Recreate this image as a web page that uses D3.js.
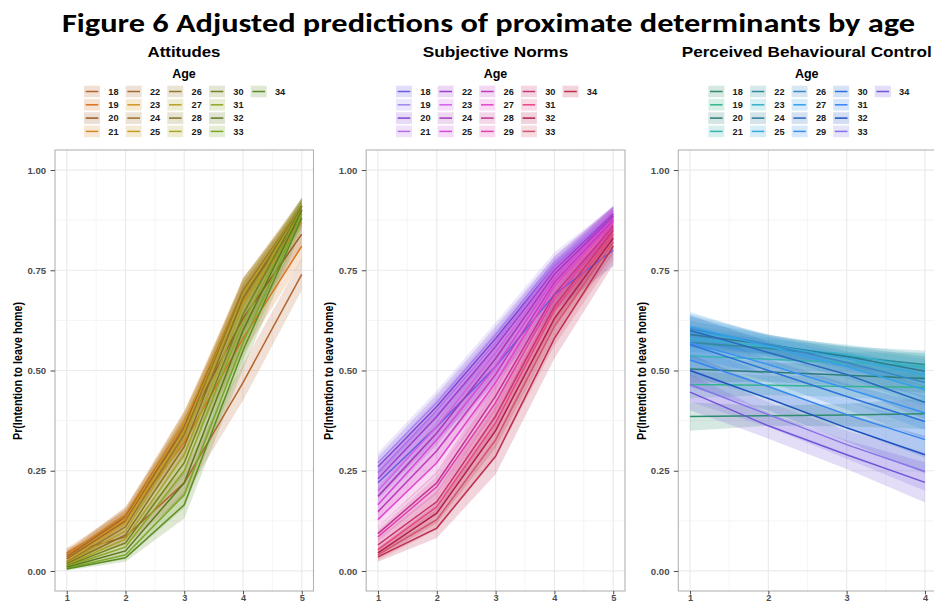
<!DOCTYPE html>
<html>
<head>
<meta charset="utf-8">
<script src="https://cdn.jsdelivr.net/npm/d3@7"></script>
<style>
  html, body { margin: 0; padding: 0; background: #ffffff; }
  svg { display: block; }
</style>
</head>
<body>
<svg id="chart" width="934" height="604"></svg>
<script>
// ---------------- DATA ----------------
const ages = [18, 19, 20, 21, 22, 23, 24, 25, 26, 27, 28, 29, 30, 31, 32, 33, 34];
const panelTitles = ["Attitudes", "Subjective Norms", "Perceived Behavioural Control"];
const yTicks = [0, 0.25, 0.5, 0.75, 1];
const yTickLabels = ["0.00", "0.25", "0.50", "0.75", "1.00"];
const attX = [1, 2, 3, 4, 5];
const snX = [1, 2, 3, 4, 5];
const pbcX = [1, 2, 3, 4];

// predicted probabilities, one row per age (18..34)
const attFit = [
  [0.045, 0.085, 0.22, 0.47, 0.74],
  [0.045, 0.13, 0.32, 0.58, 0.81],
  [0.040, 0.14, 0.35, 0.63, 0.84],
  [0.040, 0.14, 0.37, 0.67, 0.87],
  [0.035, 0.135, 0.37, 0.69, 0.88],
  [0.030, 0.13, 0.37, 0.70, 0.89],
  [0.030, 0.125, 0.36, 0.70, 0.90],
  [0.025, 0.12, 0.35, 0.70, 0.90],
  [0.022, 0.11, 0.34, 0.70, 0.91],
  [0.020, 0.10, 0.33, 0.69, 0.91],
  [0.018, 0.09, 0.31, 0.68, 0.91],
  [0.015, 0.08, 0.29, 0.66, 0.91],
  [0.013, 0.07, 0.27, 0.64, 0.91],
  [0.011, 0.06, 0.25, 0.62, 0.90],
  [0.009, 0.05, 0.22, 0.60, 0.90],
  [0.007, 0.04, 0.19, 0.57, 0.89],
  [0.005, 0.033, 0.165, 0.55, 0.88]
];
const attCI = [
  [0.012, 0.020, 0.035, 0.045, 0.040],
  [0.012, 0.022, 0.035, 0.040, 0.035],
  [0.010, 0.020, 0.033, 0.035, 0.030],
  [0.010, 0.018, 0.030, 0.032, 0.025],
  [0.009, 0.018, 0.028, 0.030, 0.024],
  [0.008, 0.017, 0.027, 0.030, 0.022],
  [0.008, 0.016, 0.027, 0.030, 0.022],
  [0.007, 0.015, 0.027, 0.030, 0.020],
  [0.007, 0.015, 0.027, 0.030, 0.020],
  [0.006, 0.014, 0.027, 0.032, 0.020],
  [0.006, 0.014, 0.028, 0.034, 0.020],
  [0.005, 0.013, 0.029, 0.036, 0.021],
  [0.005, 0.013, 0.030, 0.038, 0.022],
  [0.005, 0.012, 0.031, 0.040, 0.024],
  [0.004, 0.011, 0.032, 0.042, 0.026],
  [0.004, 0.011, 0.033, 0.044, 0.028],
  [0.004, 0.010, 0.034, 0.046, 0.030]
];
const snFit = [
  [0.22, 0.36, 0.51, 0.69, 0.80],
  [0.27, 0.42, 0.59, 0.77, 0.89],
  [0.26, 0.41, 0.58, 0.76, 0.89],
  [0.245, 0.40, 0.57, 0.76, 0.89],
  [0.23, 0.385, 0.56, 0.75, 0.89],
  [0.20, 0.36, 0.545, 0.745, 0.885],
  [0.186, 0.344, 0.53, 0.74, 0.885],
  [0.165, 0.327, 0.51, 0.73, 0.88],
  [0.148, 0.30, 0.49, 0.72, 0.875],
  [0.128, 0.27, 0.47, 0.71, 0.87],
  [0.093, 0.22, 0.436, 0.69, 0.86],
  [0.085, 0.21, 0.42, 0.68, 0.855],
  [0.065, 0.173, 0.386, 0.66, 0.85],
  [0.053, 0.16, 0.37, 0.65, 0.84],
  [0.045, 0.144, 0.35, 0.63, 0.83],
  [0.040, 0.128, 0.327, 0.61, 0.82],
  [0.035, 0.107, 0.286, 0.58, 0.81]
];
const snCI = [
  [0.030, 0.035, 0.040, 0.040, 0.040],
  [0.025, 0.030, 0.030, 0.025, 0.020],
  [0.025, 0.030, 0.030, 0.025, 0.020],
  [0.025, 0.030, 0.030, 0.025, 0.020],
  [0.024, 0.030, 0.032, 0.026, 0.021],
  [0.023, 0.030, 0.033, 0.027, 0.022],
  [0.022, 0.030, 0.034, 0.028, 0.023],
  [0.021, 0.030, 0.035, 0.030, 0.024],
  [0.020, 0.030, 0.036, 0.032, 0.025],
  [0.019, 0.029, 0.037, 0.034, 0.027],
  [0.017, 0.028, 0.038, 0.036, 0.029],
  [0.016, 0.027, 0.039, 0.038, 0.031],
  [0.015, 0.026, 0.040, 0.040, 0.034],
  [0.014, 0.026, 0.041, 0.043, 0.037],
  [0.013, 0.025, 0.043, 0.046, 0.040],
  [0.013, 0.025, 0.044, 0.048, 0.043],
  [0.012, 0.025, 0.045, 0.050, 0.046]
];
const pbcFit = [
  [0.385, 0.387, 0.389, 0.392],
  [0.465, 0.463, 0.460, 0.458],
  [0.504, 0.496, 0.488, 0.480],
  [0.536, 0.528, 0.520, 0.510],
  [0.570, 0.555, 0.535, 0.515],
  [0.580, 0.560, 0.540, 0.505],
  [0.590, 0.565, 0.535, 0.498],
  [0.600, 0.565, 0.530, 0.490],
  [0.605, 0.565, 0.520, 0.470],
  [0.610, 0.560, 0.510, 0.452],
  [0.600, 0.545, 0.490, 0.420],
  [0.569, 0.515, 0.455, 0.394],
  [0.565, 0.500, 0.435, 0.373],
  [0.526, 0.460, 0.390, 0.3275],
  [0.500, 0.430, 0.357, 0.290],
  [0.465, 0.390, 0.315, 0.248],
  [0.446, 0.362, 0.290, 0.221]
];
const pbcCI = [
  [0.035, 0.025, 0.028, 0.038],
  [0.034, 0.024, 0.026, 0.036],
  [0.034, 0.024, 0.026, 0.036],
  [0.033, 0.023, 0.025, 0.035],
  [0.033, 0.023, 0.025, 0.035],
  [0.033, 0.023, 0.025, 0.036],
  [0.034, 0.024, 0.026, 0.037],
  [0.034, 0.024, 0.027, 0.038],
  [0.035, 0.025, 0.028, 0.040],
  [0.036, 0.026, 0.029, 0.041],
  [0.037, 0.027, 0.030, 0.042],
  [0.038, 0.027, 0.031, 0.043],
  [0.039, 0.028, 0.032, 0.044],
  [0.040, 0.029, 0.033, 0.045],
  [0.041, 0.030, 0.034, 0.047],
  [0.043, 0.031, 0.035, 0.048],
  [0.045, 0.032, 0.036, 0.050]
];
const attColors = ["#b4642e", "#d9741f", "#9e5a22", "#d08a26", "#a8692c", "#d39424", "#9c6e28", "#c99c26",
  "#96782a", "#b5a128", "#857424", "#a8a526", "#748222", "#8da824", "#5f7a1e", "#7ca826", "#5a8d22"];
const snColors = ["#6b5ce0", "#a285f0", "#8444d2", "#b36ee8", "#a03ed0", "#d060e6", "#a43ab8", "#d44adc",
  "#c03cbc", "#e444cc", "#c2348e", "#e040b0", "#c83474", "#e84484", "#b0204e", "#d25470", "#c02c50"];
const pbcColors = ["#2d8c70", "#34b48e", "#2a7c78", "#36b2b0", "#2c8c9a", "#34b2c8", "#2a7a94", "#36a8da",
  "#3a88c8", "#34a2e8", "#2a6abc", "#3a92f0", "#2c72d8", "#3484f4", "#1e52c0", "#8474e8", "#7254d8"];

// ---------------- LAYOUT ----------------
const svg = d3.select("#chart");
const W = 934, H = 604;
const plotTop = 150, plotBottom = 591;
const font = "'Liberation Sans', Arial, Helvetica, sans-serif";

svg.append("rect").attr("width", W).attr("height", H).attr("fill", "#fff");

svg.append("text")
  .attr("x", 488.5).attr("y", 32)
  .attr("text-anchor", "middle")
  .attr("font-family", "Carlito, 'Open Sans', 'Liberation Sans', sans-serif")
  .attr("font-weight", "bold")
  .attr("font-size", 27)
  .attr("textLength", 853)
  .attr("lengthAdjust", "spacingAndGlyphs")
  .attr("fill", "#000")
  .text("Figure 6 Adjusted predictions of proximate determinants by age");

const panels = [
  { title: panelTitles[0], xs: attX, fit: attFit, ci: attCI, colors: attColors,
    left: 55, right: 313.5, domain: [0.8, 5.2], center: 184, titleW: 73,
    legendX: [84, 125.7, 167.3, 209, 250.7], ylabX: 18 },
  { title: panelTitles[1], xs: snX, fit: snFit, ci: snCI, colors: snColors,
    left: 366.2, right: 625, domain: [0.8, 5.2], center: 495.5, titleW: 145.6,
    legendX: [396, 437.7, 479.3, 520.9, 562.5], ylabX: 329 },
  { title: panelTitles[2], xs: pbcX, fit: pbcFit, ci: pbcCI, colors: pbcColors,
    left: 678.3, right: 936.7, domain: [0.85, 4.15], center: 806.7, titleW: 250,
    legendX: [708.3, 750, 791.6, 833.2, 874.8], ylabX: 641.7 }
];

panels.forEach(p => {
  const g = svg.append("g");
  const x = d3.scaleLinear().domain(p.domain).range([p.left, p.right]);
  const y = d3.scaleLinear().domain([-0.05, 1.05]).range([plotBottom, plotTop]);

  // panel title
  g.append("text")
    .attr("x", p.center).attr("y", 57.3)
    .attr("text-anchor", "middle")
    .attr("font-family", font).attr("font-weight", "bold").attr("font-size", 14.8)
    .attr("textLength", p.titleW).attr("lengthAdjust", "spacingAndGlyphs")
    .attr("fill", "#000").text(p.title);

  // legend title
  g.append("text")
    .attr("x", p.center).attr("y", 78.3)
    .attr("text-anchor", "middle")
    .attr("font-family", font).attr("font-weight", "bold").attr("font-size", 12.5)
    .attr("fill", "#000").text("Age");

  // legend
  ages.forEach((a, i) => {
    const col = Math.floor(i / 4), row = i % 4;
    const kx = p.legendX[col];
    const cy = 91.5 + row * 13.3;
    g.append("rect").attr("x", kx).attr("y", cy - 5.8).attr("width", 16).attr("height", 11.6)
      .attr("fill", p.colors[i]).attr("fill-opacity", 0.2);
    g.append("line").attr("x1", kx + 1.7).attr("x2", kx + 14.3).attr("y1", cy).attr("y2", cy)
      .attr("stroke", p.colors[i]).attr("stroke-width", 1.5);
    g.append("text").attr("x", kx + 24.3).attr("y", cy + 3.3)
      .attr("font-family", font).attr("font-weight", "bold").attr("font-size", 9.2)
      .attr("fill", "#1a1a1a").text(a);
  });

  // grid
  const xMajor = p.xs;
  const xMinor = d3.range(p.xs[0] + 0.5, p.xs[p.xs.length - 1], 1);
  const yMinor = [0.125, 0.375, 0.625, 0.875];
  const grid = g.append("g");
  xMinor.forEach(v => grid.append("line").attr("x1", x(v)).attr("x2", x(v)).attr("y1", plotTop).attr("y2", plotBottom)
    .attr("stroke", "#f0f0f0").attr("stroke-width", 0.7));
  yMinor.forEach(v => grid.append("line").attr("x1", p.left).attr("x2", p.right).attr("y1", y(v)).attr("y2", y(v))
    .attr("stroke", "#f0f0f0").attr("stroke-width", 0.7));
  xMajor.forEach(v => grid.append("line").attr("x1", x(v)).attr("x2", x(v)).attr("y1", plotTop).attr("y2", plotBottom)
    .attr("stroke", "#ebebeb").attr("stroke-width", 1.2));
  yTicks.forEach(v => grid.append("line").attr("x1", p.left).attr("x2", p.right).attr("y1", y(v)).attr("y2", y(v))
    .attr("stroke", "#ebebeb").attr("stroke-width", 1.2));

  // ribbons
  const area = d3.area()
    .x(d => x(d.x)).y0(d => y(d.v - d.c)).y1(d => y(d.v + d.c));
  const line = d3.line().x(d => x(d.x)).y(d => y(d.v));
  const series = ages.map((a, i) => p.xs.map((xv, j) => ({ x: xv, v: p.fit[i][j], c: p.ci[i][j] })));
  series.forEach((s, i) => {
    g.append("path").attr("d", area(s)).attr("fill", p.colors[i]).attr("fill-opacity", 0.2).attr("stroke", "none");
  });
  series.forEach((s, i) => {
    g.append("path").attr("d", line(s)).attr("fill", "none").attr("stroke", p.colors[i]).attr("stroke-width", 1.5);
  });

  // frame
  g.append("rect").attr("x", p.left).attr("y", plotTop)
    .attr("width", p.right - p.left).attr("height", plotBottom - plotTop)
    .attr("fill", "none").attr("stroke", "#b3b3b3").attr("stroke-width", 1.1);

  // axes
  const yAxis = d3.axisLeft(y).tickValues(yTicks).tickFormat((d, i) => yTickLabels[i]).tickSize(4.5).tickPadding(4.3);
  const ya = g.append("g").attr("transform", `translate(${p.left},0)`).call(yAxis);
  const xAxis = d3.axisBottom(x).tickValues(p.xs).tickFormat(d3.format("d")).tickSize(3.5).tickPadding(0);
  const xa = g.append("g").attr("transform", `translate(0,${plotBottom})`).call(xAxis);
  [ya, xa].forEach(a => {
    a.select(".domain").remove();
    a.selectAll(".tick line").attr("stroke", "#4d4d4d").attr("stroke-width", 1);
    a.selectAll(".tick text").attr("fill", "#4d4d4d").attr("font-family", font)
      .attr("font-weight", "bold").attr("font-size", 9.6);
  });
  xa.selectAll(".tick text").attr("font-size", 9.2);

  // y label
  g.append("text")
    .attr("transform", `translate(${p.ylabX + 4},371) rotate(-90)`)
    .attr("text-anchor", "middle")
    .attr("font-family", "'Liberation Sans Narrow', 'Liberation Sans', Arial, sans-serif")
    .attr("font-weight", "bold").attr("font-size", 12)
    .attr("textLength", 138).attr("lengthAdjust", "spacingAndGlyphs")
    .attr("fill", "#000").text("Pr(Intention to leave home)");
});
</script>
</body>
</html>
